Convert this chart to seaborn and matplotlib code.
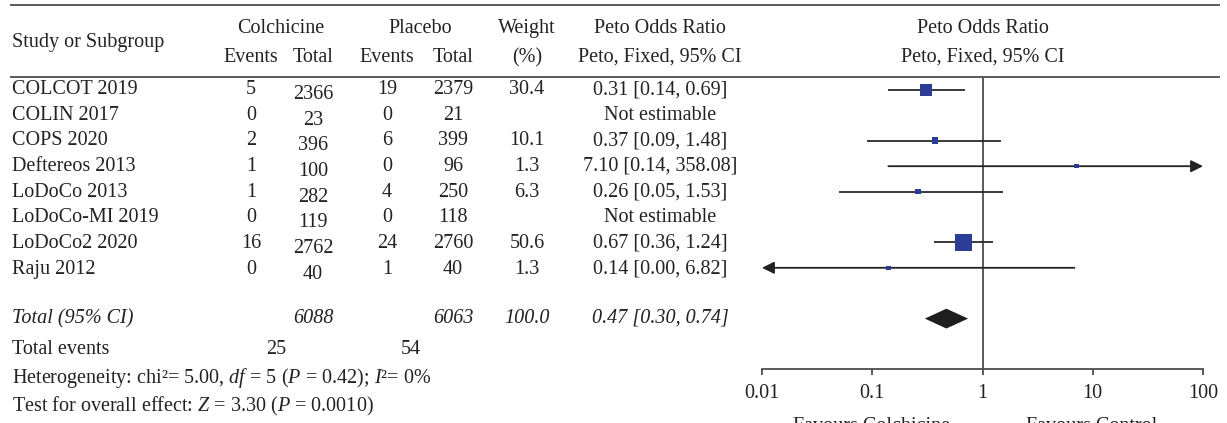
import numpy as np
import pandas as pd
import matplotlib
matplotlib.use("Agg")
import matplotlib.pyplot as plt
from matplotlib.ticker import NullLocator, FixedLocator, FixedFormatter
import seaborn as sns

# ---------------- data ----------------
studies = ["COLCOT 2019", "COLIN 2017", "COPS 2020", "Deftereos 2013",
           "LoDoCo 2013", "LoDoCo-MI 2019", "LoDoCo2 2020", "Raju 2012"]
colch_events = [5, 0, 2, 1, 1, 0, 16, 0]
colch_total = [2366, 23, 396, 100, 282, 119, 2762, 40]
plac_events = [19, 0, 6, 0, 4, 0, 24, 1]
plac_total = [2379, 21, 399, 96, 250, 118, 2760, 40]
weights = [30.4, None, 10.1, 1.3, 6.3, None, 50.6, 1.3]
or_est = [0.31, None, 0.37, 7.10, 0.26, None, 0.67, 0.14]
ci_low = [0.14, None, 0.09, 0.14, 0.05, None, 0.36, 0.00]
ci_high = [0.69, None, 1.48, 358.08, 1.53, None, 1.24, 6.82]

total_colch = 6088
total_plac = 6063
total_weight = 100.0
total_or = 0.47
total_low = 0.30
total_high = 0.74
events_colch = 25
events_plac = 54

x_ticks = [0.01, 0.1, 1, 10, 100]
x_tick_labels = ["0.01", "0.1", "1", "10", "100"]
favours_left = "Favours Colchicine"
favours_right = "Favours Control"

# ---------------- style ----------------
sns.set_theme(style="white")
plt.rcParams["font.family"] = ["Liberation Serif", "DejaVu Serif"]
plt.rcParams["mathtext.fontset"] = "custom"
plt.rcParams["mathtext.rm"] = "Liberation Serif"
plt.rcParams["mathtext.it"] = "Liberation Serif:italic"

FS = 14.5
TXT = "#222222"
LINE = "#4d4d4d"
BLUE = "#2B3D96"

W, H = 1227, 423
fig = plt.figure(figsize=(W / 100, H / 100), dpi=100)

# layout axes in pixel units for the table text
tab = fig.add_axes([0, 0, 1, 1])
tab.set_xlim(0, W)
tab.set_ylim(H, 0)
tab.axis("off")

ROW0, DY = 90, 25.4
TOTAL_IDX = 9

def row_px(i):
    return ROW0 + DY * i

# column centres
X_STUDY = 12
X_CE, X_CT, X_PE, X_PT, X_W, X_OR = 251, 313, 387, 453, 527, 660
X_RIGHT = 983

def t(x, y, s, ha="center", **kw):
    tab.text(x, y, s, ha=ha, va="baseline", fontsize=FS, color=TXT, **kw)

# header lines
tab.plot([10, 1220], [5, 5], color=LINE, lw=1.3, solid_capstyle="butt")
tab.plot([10, 1220], [77, 77], color=LINE, lw=1.3, solid_capstyle="butt")

# header text
t(X_STUDY, 47, "Study or Subgroup", ha="left")
t((X_CE + X_CT) / 2 - 1, 33, "Colchicine")
t((X_PE + X_PT) / 2, 33, "Placebo")
t(X_CE, 62, "Events")
t(X_CT, 62, "Total")
t(X_PE, 62, "Events")
t(X_PT, 62, "Total")
t(X_W, 33, "Weight")
t(X_W, 62, "(%)")
t(X_OR, 33, "Peto Odds Ratio")
t(X_OR, 62, "Peto, Fixed, 95% CI")
t(X_RIGHT, 33, "Peto Odds Ratio")
t(X_RIGHT, 62, "Peto, Fixed, 95% CI")

# study rows
for i, name in enumerate(studies):
    yb = row_px(i) + 4 + 0.25 * i
    t(X_STUDY, yb, name, ha="left")
    t(X_CE, yb, str(colch_events[i]))
    t(X_CT, yb + 5, str(colch_total[i]))
    t(X_PE, yb, str(plac_events[i]))
    t(X_PT, yb, str(plac_total[i]))
    if weights[i] is not None:
        t(X_W, yb, f"{weights[i]:.1f}")
        t(X_OR, yb, f"{or_est[i]:.2f} [{ci_low[i]:.2f}, {ci_high[i]:.2f}]")
    else:
        t(X_OR, yb, "Not estimable")

# totals
yb = 323
t(X_STUDY, yb, "Total (95% CI)", ha="left", style="italic")
t(X_CT, yb, str(total_colch), style="italic")
t(X_PT, yb, str(total_plac), style="italic")
t(X_W, yb, f"{total_weight:.1f}", style="italic")
t(X_OR, yb, f"{total_or:.2f} [{total_low:.2f}, {total_high:.2f}]", style="italic")

t(X_STUDY, 354, "Total events", ha="left")
t(276, 354, str(events_colch))
t(411, 354, str(events_plac))
t(X_STUDY, 383, r"Heterogeneity: chi²= 5.00, $\mathit{df}$ = 5 ($\mathit{P}$ = 0.42); $\mathit{I}$²= 0%", ha="left")
t(X_STUDY, 411, r"Test for overall effect: $\mathit{Z}$ = 3.30 ($\mathit{P}$ = 0.0010)", ha="left")

# ---------------- forest panel ----------------
AX_L, AX_R, AX_T, AX_B = 762, 1203, 77, 369
ax = fig.add_axes([AX_L / W, 1 - AX_B / H, (AX_R - AX_L) / W, (AX_B - AX_T) / H])
ax.set_xscale("log")
ax.set_xlim(x_ticks[0], x_ticks[-1])
ax.set_ylim((AX_B - ROW0) / DY, (AX_T - ROW0) / DY)
ax.patch.set_alpha(0)

xmin, xmax = x_ticks[0], x_ticks[-1]
ax.axvline(1, color=LINE, lw=1.3, zorder=1)

df = pd.DataFrame({"row": range(len(studies)), "or": or_est, "lo": ci_low,
                   "hi": ci_high, "w": weights}).dropna()

arrow_style = "-|>,head_length=0.6,head_width=0.3"
for _, r in df.iterrows():
    lo_c = max(r["lo"], xmin)
    hi_c = min(r["hi"], xmax)
    if r["hi"] > xmax:
        ax.annotate("", xy=(hi_c, r["row"]), xytext=(lo_c, r["row"]),
                    arrowprops=dict(arrowstyle=arrow_style, color="#222222",
                                    lw=1.3, shrinkA=0, shrinkB=0), zorder=2)
    elif r["lo"] < xmin:
        ax.annotate("", xy=(lo_c, r["row"]), xytext=(hi_c, r["row"]),
                    arrowprops=dict(arrowstyle=arrow_style, color="#222222",
                                    lw=1.3, shrinkA=0, shrinkB=0), zorder=2)
    else:
        ax.hlines(r["row"], lo_c, hi_c, color="#2a2a2a", lw=1.3, zorder=2)

# square side (px) grows with study weight
size_map = {w: ((4.0 + 0.26 * w) * 0.72) ** 2 for w in df["w"].unique()}
sns.scatterplot(data=df, x="or", y="row", size="w", sizes=size_map, marker="s",
                color=BLUE, linewidth=0, legend=False, ax=ax, zorder=4)

# pooled diamond
hh = 0.39
ax.fill([total_low, total_or, total_high, total_or],
        [TOTAL_IDX, TOTAL_IDX - hh, TOTAL_IDX, TOTAL_IDX + hh],
        color="#1e1e1e", lw=0, zorder=4)

for s in ["top", "left", "right"]:
    ax.spines[s].set_visible(False)
ax.spines["bottom"].set_color(LINE)
ax.spines["bottom"].set_linewidth(1.3)
ax.set_yticks([])
ax.set_xlabel("")
ax.set_ylabel("")
ax.xaxis.set_major_locator(FixedLocator(x_ticks))
ax.xaxis.set_major_formatter(FixedFormatter(x_tick_labels))
ax.xaxis.set_minor_locator(NullLocator())
ax.tick_params(axis="x", which="major", bottom=True, direction="out", length=4.5,
               width=1.3, color=LINE, pad=6, labelsize=FS, labelcolor=TXT)

tab.text(872, 417, favours_left, ha="center", va="top", fontsize=FS, color=TXT)
tab.text(1092, 417, favours_right, ha="center", va="top", fontsize=FS, color=TXT)

fig.savefig("out.png", dpi=100)
